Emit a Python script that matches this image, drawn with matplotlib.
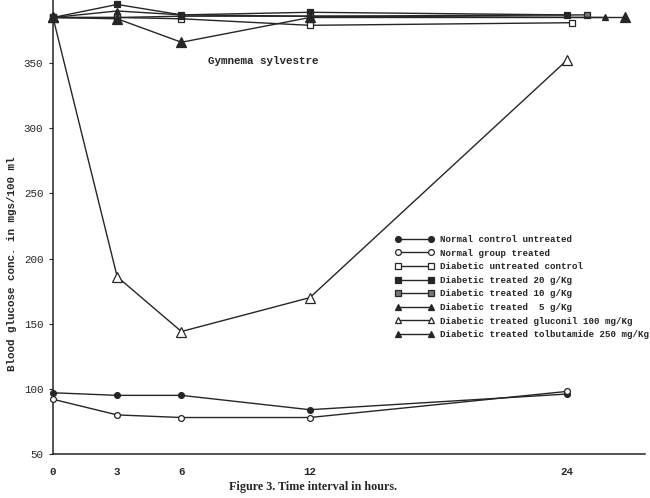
import matplotlib
matplotlib.use("Agg")
import matplotlib.pyplot as plt
from matplotlib.lines import Line2D

# ---- data ----
hours = [0, 3, 6, 12, 24]
x_ticks = [0, 3, 6, 12, 24]
y_ticks = [50, 100, 150, 200, 250, 300, 350]

normal_control = [97, 95, 95, 84, 96]
normal_treated = [92, 80, 78, 78, 98]
diab_control = [385, 385, 384, 379, 381]
diab_20 = [385, 395, 387, 389, 387]
diab_10 = [385, 385, 386, 386, 387]
diab_5 = [385, 390, 387, 386, 385]
gluconil = [385, 186, 144, 170, 352]
tolbutamide = [385, 384, 366, 385, 385]

labels = [
    "Normal control untreated",
    "Normal group treated",
    "Diabetic untreated control",
    "Diabetic treated 20 g/Kg",
    "Diabetic treated 10 g/Kg",
    "Diabetic treated  5 g/Kg",
    "Diabetic treated gluconil 100 mg/Kg",
    "Diabetic treated tolbutamide 250 mg/Kg",
]
series = [normal_control, normal_treated, diab_control, diab_20,
          diab_10, diab_5, gluconil, tolbutamide]

# ---- styles ----
INK = "#262626"
styles = [
    dict(marker="o", mfc=INK, ms=4.2),
    dict(marker="o", mfc="white", ms=4.2),
    dict(marker="s", mfc="white", ms=4.0),
    dict(marker="s", mfc=INK, ms=4.4),
    dict(marker="s", mfc="#777777", ms=4.4),
    dict(marker="^", mfc=INK, ms=5.0),
    dict(marker="^", mfc="white", ms=6.5),
    dict(marker="^", mfc=INK, ms=6.5),
]
# horizontal display offset (hours) of the 24 h marker, as drawn in the original
end_shift = [0, 0, 0.25, 0, 0.95, 1.8, 0, 2.75]

mono = ["Liberation Mono", "DejaVu Sans Mono"]

fig = plt.figure(figsize=(6.5, 4.98), dpi=100)
fig.patch.set_facecolor("white")
ax = fig.add_axes([53 / 650, 44 / 498, 592 / 650, 454 / 498])
ax.set_xlim(0, 592 / 21.4)
ax.set_ylim(50, 50 + 454 / 1.303)

for ys, st, sh in zip(series, styles, end_shift):
    xs = list(hours)
    xs[-1] = xs[-1] + sh
    ax.plot(xs, ys, color=INK, lw=1.0, marker=st["marker"], mfc=st["mfc"],
            mec=INK, mew=0.9, ms=st["ms"], clip_on=False, zorder=3)

for s in ["top", "right"]:
    ax.spines[s].set_visible(False)
for s in ["left", "bottom"]:
    ax.spines[s].set_color(INK)
    ax.spines[s].set_linewidth(1.1)

ax.set_xticks(x_ticks)
ax.set_xticklabels([str(t) for t in x_ticks], fontfamily=mono, fontsize=7.8,
                   fontweight="bold", color=INK)
ax.set_yticks(y_ticks)
ax.set_yticklabels([str(t) for t in y_ticks], fontfamily=mono, fontsize=7.8,
                   color=INK)
ax.tick_params(axis="x", length=0, pad=9)
ax.tick_params(axis="y", length=3, width=0.8, direction="out", pad=4, colors=INK)

fig.text(12 / 650, 1 - 264 / 498, "Blood glucose conc. in mgs/100 ml",
         rotation=90, ha="center", va="center", fontfamily=mono,
         fontsize=7.8, fontweight="bold", color=INK)

fig.text(208 / 650, 1 - 61 / 498, "Gymnema sylvestre", ha="left",
         va="center", fontfamily=mono, fontsize=7.8, fontweight="bold",
         color=INK)

fig.text(229 / 650, 1 - 487 / 498, "Figure 3. Time interval in hours.",
         ha="left", va="center", fontfamily="Liberation Serif",
         fontsize=8.7, fontweight="bold", color=INK)

handles = [Line2D([0], [0], color=INK, lw=1.0, marker=st["marker"],
                  mfc=st["mfc"], mec=INK, mew=0.9,
                  ms=min(st["ms"], 4.6)) for st in styles]
leg = fig.legend(handles, labels, loc="upper left",
                 bbox_to_anchor=(395 / 650, 1 - 235 / 498),
                 frameon=False, numpoints=2, handlelength=4.2,
                 handletextpad=0.7, labelspacing=0.5, borderpad=0,
                 borderaxespad=0,
                 prop=dict(family=mono, size=6.6, weight="bold"))
for t in leg.get_texts():
    t.set_color(INK)

fig.savefig("out.png", dpi=100, facecolor="white")
